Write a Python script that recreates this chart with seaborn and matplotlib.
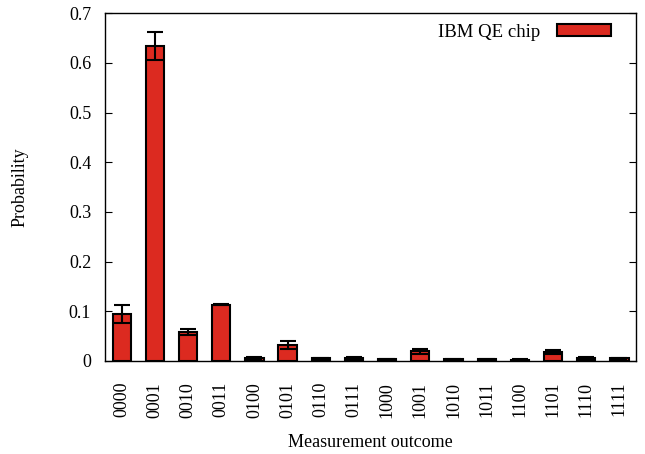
import pandas as pd
import numpy as np
import matplotlib.pyplot as plt
import seaborn as sns

outcomes = ['0000', '0001', '0010', '0011', '0100', '0101', '0110', '0111',
            '1000', '1001', '1010', '1011', '1100', '1101', '1110', '1111']
prob = [0.094, 0.634, 0.059, 0.113, 0.006, 0.032, 0.005, 0.006,
        0.003, 0.019, 0.003, 0.003, 0.002, 0.018, 0.005, 0.005]
err = [0.018, 0.028, 0.006, 0.001, 0.002, 0.008, 0.001, 0.002,
       0.001, 0.005, 0.001, 0.001, 0.001, 0.005, 0.002, 0.001]

df = pd.DataFrame({'outcome': outcomes, 'p': prob, 'err': err, 'label': 'IBM QE chip'})

sns.set_style('ticks')
plt.rcParams['font.family'] = ['Liberation Serif', 'DejaVu Serif']
plt.rcParams['text.color'] = 'black'
plt.rcParams['axes.labelcolor'] = 'black'
plt.rcParams['xtick.color'] = 'black'
plt.rcParams['ytick.color'] = 'black'

fig = plt.figure(figsize=(6.45, 4.54), dpi=100)
ax = fig.add_axes([0.163, 0.205, 0.823, 0.766])

sns.barplot(data=df, x='outcome', y='p', hue='label', palette=['#dc2a20'],
            saturation=1, width=0.55, edgecolor='black', linewidth=1.5,
            errorbar=None, ax=ax)
ax.errorbar(np.arange(len(outcomes)), df['p'], yerr=df['err'], fmt='none',
            ecolor='black', elinewidth=1.5, capsize=5.5, capthick=1.5)

ax.set_xlim(-0.5, 15.5)
ax.set_ylim(0, 0.7)
ax.set_yticks(np.arange(0, 0.71, 0.1))
ax.set_yticklabels(['0'] + ['%.1f' % v for v in np.arange(0.1, 0.71, 0.1)])
ax.tick_params(axis='y', direction='in', right=True, length=5, labelsize=13, pad=10)
ax.tick_params(axis='x', length=0, labelsize=13, rotation=90, pad=15)
ax.set_xlabel('Measurement outcome', fontsize=13, labelpad=12)
ax.set_ylabel('Probability', fontsize=13, labelpad=29)
for s in ax.spines.values():
    s.set_visible(True)
    s.set_linewidth(1.0)
    s.set_color('black')

ax.legend(loc='upper right', frameon=False, markerfirst=False, fontsize=13.5,
          handlelength=2.9, handleheight=0.6, handletextpad=0.9,
          bbox_to_anchor=(0.985, 1.018))

fig.savefig('out.png', dpi=100)
